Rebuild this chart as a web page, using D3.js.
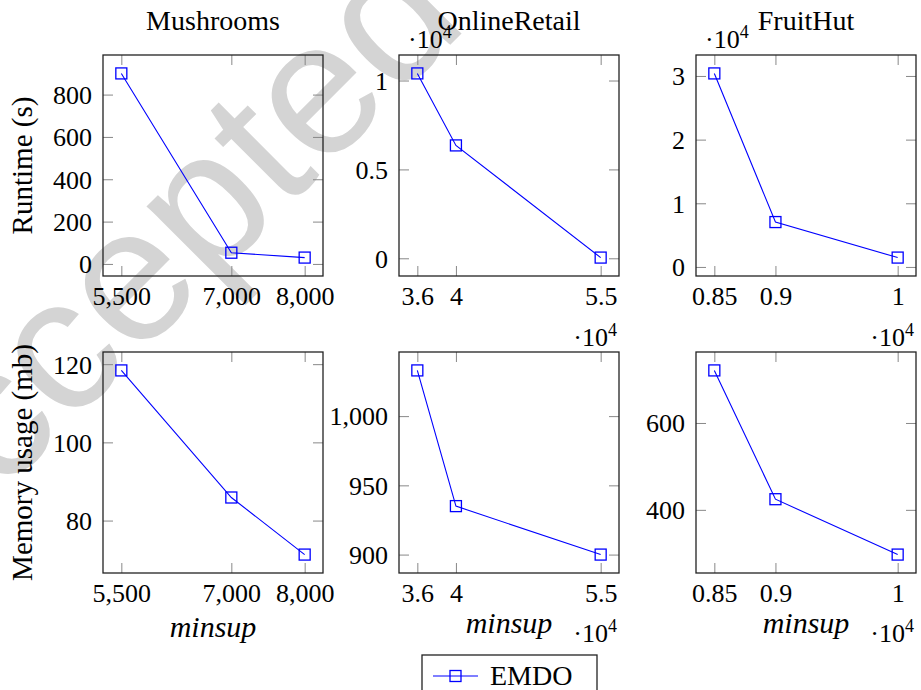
<!DOCTYPE html>
<html>
<head>
<meta charset="utf-8">
<script src="https://cdn.jsdelivr.net/npm/d3@7"></script>
<style>
  html, body { margin: 0; padding: 0; background: #fff; }
  svg { display: block; }
  text { font-family: "Liberation Serif", "DejaVu Serif", serif; fill: #000; }
</style>
</head>
<body>
<svg id="chart" width="921" height="690"></svg>
<script>
// ---------------- DATA ----------------
const datasets = ["Mushrooms", "OnlineRetail", "FruitHut"];
const minsupMushrooms = [5500, 7000, 8000];
const minsupOnlineRetail = [36000, 40000, 55000];
const minsupFruitHut = [8500, 9000, 10000];

const runtimeMushrooms = [900, 53, 30];
const runtimeOnlineRetail = [10400, 6350, 40];
const runtimeFruitHut = [30400, 7050, 1470];

const memoryMushrooms = [118.4, 85.9, 71.3];
const memoryOnlineRetail = [1033, 935, 900];
const memoryFruitHut = [721, 424.5, 297];

const runtimeTicksMushrooms = [0, 200, 400, 600, 800];
const runtimeTicksOnlineRetail = [0, 5000, 10000];
const runtimeTicksFruitHut = [0, 10000, 20000, 30000];
const memoryTicksMushrooms = [80, 100, 120];
const memoryTicksOnlineRetail = [900, 950, 1000];
const memoryTicksFruitHut = [400, 600];

const rowLabels = ["Runtime (s)", "Memory usage (mb)"];
const xLabel = "minsup";
const seriesName = "EMDO";
const watermarkText = "Accepted Manuscript";

// ---------------- LAYOUT ----------------
const svg = d3.select("#chart");
const colLeft = [103, 399, 696];
const rowTop = [55, 352];
const W = 220, H = 221;
const BLUE = "#0000ff";
const SERIF = "'Liberation Serif', 'Times New Roman', serif";
const FS = 26;

function styleText(sel, size, italic) {
  sel.attr("font-family", SERIF).style("font-family", SERIF)
    .style("font-size", size + "px").attr("fill", "#000").style("fill", "#000");
  if (italic) sel.style("font-style", "italic");
  return sel;
}

// watermark (behind everything)
svg.append("text")
  .attr("transform", "translate(-90,585) rotate(-45)")
  .style("font-family", "'Liberation Sans', Arial, sans-serif")
  .style("font-size", "190px")
  .style("fill", "#d4d4d4")
  .text(watermarkText);

const xData = [minsupMushrooms, minsupOnlineRetail, minsupFruitHut];
const yData = [
  [runtimeMushrooms, runtimeOnlineRetail, runtimeFruitHut],
  [memoryMushrooms, memoryOnlineRetail, memoryFruitHut]
];
const yTicks = [
  [runtimeTicksMushrooms, runtimeTicksOnlineRetail, runtimeTicksFruitHut],
  [memoryTicksMushrooms, memoryTicksOnlineRetail, memoryTicksFruitHut]
];
const xScaled = [false, true, true];
const yScaled = [[false, true, true], [false, false, false]];

function enlarged(vals) {
  const [a, b] = d3.extent(vals);
  const pad = (b - a) * 0.1;
  return [a - pad, b + pad];
}
const commaFmt = d3.format(",");
function fmt(v, scaled) {
  if (scaled) return String(+(v / 1e4).toFixed(3));
  return commaFmt(v);
}

function multiplier(x, y, anchor) {
  const t = svg.append("text").attr("x", x).attr("y", y).attr("text-anchor", anchor);
  styleText(t, FS);
  t.append("tspan").text("\u00b710");
  t.append("tspan").attr("dy", -10).style("font-size", "18px").text("4");
}

const tl = 10;
for (let r = 0; r < 2; r++) {
  for (let c = 0; c < 3; c++) {
    const x0 = colLeft[c], y0 = rowTop[r];
    const xs = xData[c], ys = yData[r][c];
    const x = d3.scaleLinear().domain(enlarged(xs)).range([x0, x0 + W]);
    const y = d3.scaleLinear().domain(enlarged(ys)).range([y0 + H, y0]);
    const g = svg.append("g");

    // x ticks (bottom & top, inside)
    const xAxisG = g.append("g").attr("transform", `translate(0,${y0 + H})`)
      .call(d3.axisBottom(x).tickValues(xs).tickSize(tl).tickFormat(d => fmt(d, xScaled[c])));
    xAxisG.select(".domain").remove();
    xAxisG.selectAll(".tick line").attr("y2", -tl).attr("stroke", "#888").attr("stroke-width", 1);
    styleText(xAxisG.selectAll(".tick text").attr("y", 11).attr("dy", "0.71em"), FS);
    g.append("g").attr("transform", `translate(0,${y0})`)
      .call(d3.axisTop(x).tickValues(xs).tickSize(tl).tickFormat(""))
      .call(a => a.select(".domain").remove())
      .selectAll(".tick line").attr("y2", tl).attr("stroke", "#888").attr("stroke-width", 1);

    // y ticks (left & right, inside)
    const yAxisG = g.append("g").attr("transform", `translate(${x0},0)`)
      .call(d3.axisLeft(y).tickValues(yTicks[r][c]).tickSize(tl).tickFormat(d => fmt(d, yScaled[r][c])));
    yAxisG.select(".domain").remove();
    yAxisG.selectAll(".tick line").attr("x2", tl).attr("stroke", "#888").attr("stroke-width", 1);
    styleText(yAxisG.selectAll(".tick text").attr("x", -11).attr("dy", "0.34em"), FS);
    g.append("g").attr("transform", `translate(${x0 + W},0)`)
      .call(d3.axisRight(y).tickValues(yTicks[r][c]).tickSize(tl).tickFormat(""))
      .call(a => a.select(".domain").remove())
      .selectAll(".tick line").attr("x2", -tl).attr("stroke", "#888").attr("stroke-width", 1);

    // box
    g.append("rect").attr("x", x0).attr("y", y0).attr("width", W).attr("height", H)
      .attr("fill", "none").attr("stroke", "#222").attr("stroke-width", 1.3);

    // line + markers
    const pts = xs.map((v, i) => [v, ys[i]]);
    g.append("path").datum(pts)
      .attr("d", d3.line().x(d => x(d[0])).y(d => y(d[1])))
      .attr("fill", "none").attr("stroke", BLUE).attr("stroke-width", 1.1);
    const ms = 11;
    g.selectAll("rect.m").data(pts).join("rect").attr("class", "m")
      .attr("x", d => x(d[0]) - ms / 2).attr("y", d => y(d[1]) - ms / 2)
      .attr("width", ms).attr("height", ms)
      .attr("fill", "none").attr("stroke", BLUE).attr("stroke-width", 1.3);

    if (yScaled[r][c]) multiplier(x0 + 9, 48, "start");
    if (xScaled[c]) multiplier(x0 + W - 2, r === 0 ? 346 : 642, "end");

    if (r === 0) {
      styleText(svg.append("text").attr("x", x0 + W / 2).attr("y", 30)
        .attr("text-anchor", "middle").text(datasets[c]), 28);
    } else {
      styleText(svg.append("text").attr("x", x0 + W / 2).attr("y", c === 0 ? 637 : 633)
        .attr("text-anchor", "middle").text(xLabel), 30, true);
    }
  }
  styleText(svg.append("text")
    .attr("transform", `translate(32,${rowTop[r] + H / 2}) rotate(-90)`)
    .attr("text-anchor", "middle").text(rowLabels[r]), 29);
}

// legend
const lg = svg.append("g");
lg.append("rect").attr("x", 422).attr("y", 655).attr("width", 175).attr("height", 50)
  .attr("fill", "#fff").attr("stroke", "#222").attr("stroke-width", 1.3);
lg.append("line").attr("x1", 433).attr("x2", 478).attr("y1", 676).attr("y2", 676)
  .attr("stroke", BLUE).attr("stroke-width", 1.1);
lg.append("rect").attr("x", 450).attr("y", 670.5).attr("width", 11).attr("height", 11)
  .attr("fill", "none").attr("stroke", BLUE).attr("stroke-width", 1.3);
styleText(lg.append("text").attr("x", 490).attr("y", 685).text(seriesName), 28);
</script>
</body>
</html>
